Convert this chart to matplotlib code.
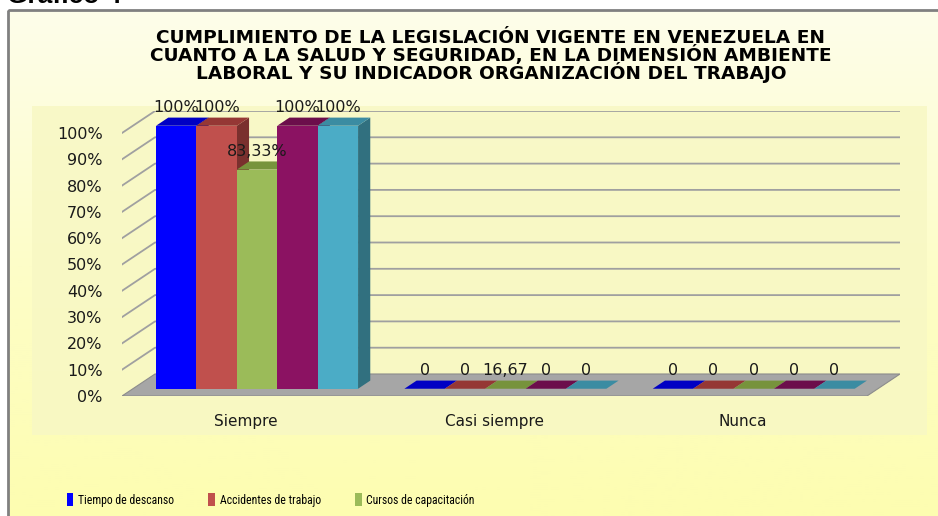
#!/usr/bin/env python3
# -*- coding: utf-8 -*-
"""Gráfico 4: barras 3D (proyección oblicua) de cumplimiento de la legislación."""

import matplotlib

matplotlib.use("Agg")
import matplotlib.pyplot as plt
import numpy as np
from matplotlib.patches import Patch, Polygon, Rectangle

# ---------------------------------------------------------------- data
categories = ["Siempre", "Casi siempre", "Nunca"]
legend_names = ["Tiempo de descanso", "Accidentes de trabajo", "Cursos de capacitación"]
siempre = [100, 100, 83.33, 100, 100]
casi_siempre = [0, 0, 0, 0, 0]
nunca = [0, 0, 0, 0, 0]
siempre_labels = ["100%", "100%", "83,33%", "100%", "100%"]
casi_siempre_labels = ["0", "0", "16,67", "0", "0"]
nunca_labels = ["0", "0", "0", "0", "0"]
y_ticks = [0, 10, 20, 30, 40, 50, 60, 70, 80, 90, 100]
y_tick_labels = ["0%", "10%", "20%", "30%", "40%", "50%", "60%", "70%", "80%", "90%", "100%"]

title = (
    "CUMPLIMIENTO DE LA LEGISLACIÓN VIGENTE EN VENEZUELA EN\n"
    "CUANTO A LA SALUD Y SEGURIDAD, EN LA DIMENSIÓN AMBIENTE\n"
    "LABORAL Y SU INDICADOR ORGANIZACIÓN DEL TRABAJO"
)

# front / top / side colours per series
front_colors = ["#0000FF", "#C0504D", "#9BBB59", "#8B1262", "#4BACC6"]
top_colors = ["#0000C4", "#953735", "#77933C", "#6C0E4B", "#3B8CA2"]
side_colors = ["#00009A", "#7A302E", "#5F7530", "#560B3C", "#31707F"]

# ---------------------------------------------------------------- layout (px)
W, H = 938, 516
X_FRONT0, X_FRONT1 = 122, 867  # front floor edge
Y_ZERO, Y_HUNDRED = 396, 133  # front 0% / 100%
DEPTH_PX = (33, 22)  # oblique depth offset (right, up)

fig = plt.figure(figsize=(W / 100, H / 100), dpi=100)
fig.patch.set_facecolor("white")

# background: frame with gradient, plot area, titles
bg = fig.add_axes([0, 0, 1, 1])
bg.set_xlim(0, W)
bg.set_ylim(H, 0)
bg.set_axis_off()
grad = np.linspace(0, 1, 256)[:, None]
cmap = matplotlib.colors.LinearSegmentedColormap.from_list("bg", ["#FEFEEA", "#FDFDC8", "#FDFDB0"])
bg.imshow(grad, extent=(8, W + 5, H + 5, 10), cmap=cmap, aspect="auto", zorder=0)
bg.add_patch(Rectangle((8, 10), W, H, facecolor="none", edgecolor="#808080", linewidth=2, zorder=3))
bg.add_patch(Rectangle((32, 106), 895, 329, facecolor="#F8F8C4", edgecolor="none", alpha=0.85, zorder=1))
bg.text(7, 3, "Gráfico 4", fontsize=19, fontweight="bold", family="Liberation Sans",
        ha="left", va="baseline", color="black")
bg.text(491, 56, title, fontsize=13.3, fontweight="bold", family="DejaVu Sans",
        ha="center", va="center", linespacing=0.82, color="black")

# main axes: x in category units, y in percent
xs = (X_FRONT1 - X_FRONT0) / len(categories)  # px per category
ys = (Y_ZERO - Y_HUNDRED) / 100.0  # px per percent
right_px = X_FRONT1 + DEPTH_PX[0]
top_px = Y_ZERO - 100 * ys - DEPTH_PX[1]
ax = fig.add_axes([X_FRONT0 / W, 1 - Y_ZERO / H, (right_px - X_FRONT0) / W, (Y_ZERO - top_px) / H])
ax.set_xlim(0, (right_px - X_FRONT0) / xs)
ax.set_ylim(0, (Y_ZERO - top_px) / ys)
ax.patch.set_alpha(0)
for spine in ax.spines.values():
    spine.set_visible(False)

DX = DEPTH_PX[0] / xs
DY = DEPTH_PX[1] / ys


def proj(x, y, d):
    return (x + d * DX, y + d * DY)


n_cat = len(categories)

# floor
floor = Polygon([proj(0, 0, 0), proj(n_cat, 0, 0), proj(n_cat, 0, 1), proj(0, 0, 1)],
                closed=True, facecolor="#A6A6A6", edgecolor="#8C8C8C", linewidth=0.8, zorder=2)
ax.add_patch(floor)

# gridlines: left wall + back wall
for t in y_ticks[1:]:
    p = [proj(0, t, 0), proj(0, t, 1), proj(n_cat, t, 1)]
    ax.plot([q[0] for q in p], [q[1] for q in p], color="#A0A0A0", linewidth=1.3, zorder=1)

# bars
values = [siempre, casi_siempre, nunca]
labels = [siempre_labels, casi_siempre_labels, nunca_labels]
n_ser = len(siempre)
bw = 40.4 / xs
d0, d1 = 0.33, 0.70
z = 3
for i in range(n_cat):
    x_start = i + 0.5 - n_ser * bw / 2
    for j in range(n_ser):
        h = values[i][j]
        x0, x1 = x_start + j * bw, x_start + (j + 1) * bw
        side = [proj(x1, 0, d0), proj(x1, h, d0), proj(x1, h, d1), proj(x1, 0, d1)]
        top = [proj(x0, h, d0), proj(x1, h, d0), proj(x1, h, d1), proj(x0, h, d1)]
        front = [proj(x0, 0, d0), proj(x1, 0, d0), proj(x1, h, d0), proj(x0, h, d0)]
        ax.add_patch(Polygon(side, closed=True, facecolor=side_colors[j], edgecolor="none", zorder=z))
        ax.add_patch(Polygon(top, closed=True, facecolor=top_colors[j], edgecolor="none", zorder=z))
        if h > 0:
            ax.add_patch(Polygon(front, closed=True, facecolor=front_colors[j], edgecolor="none", zorder=z))
        z += 1
        cx, cy = proj((x0 + x1) / 2, h, d0)
        ax.annotate(labels[i][j], (cx, cy), xytext=(0, 18), textcoords="offset pixels",
                    ha="center", va="center", fontsize=11.5, color="#1A1A1A", zorder=50,
                    annotation_clip=False)

# ticks
ax.set_yticks(y_ticks, y_tick_labels)
ax.tick_params(axis="y", length=0, pad=14, labelsize=11.5, labelcolor="#1A1A1A")
ax.set_xticks([i + 0.5 for i in range(n_cat)], categories)
ax.tick_params(axis="x", length=0, pad=13, labelsize=11, labelcolor="#1A1A1A")

# legend (only the first row is visible in the original)
handles = [Patch(facecolor=c, edgecolor="none") for c in front_colors[:3]]
fig.legend(handles, legend_names, loc="center left", bbox_to_anchor=(67 / W, 1 - 500 / H),
           ncol=3, frameon=False, borderpad=0, borderaxespad=0, handlelength=0.55, handleheight=1.2,
           handletextpad=0.4, columnspacing=2.9,
           prop={"family": ["Liberation Sans Narrow", "DejaVu Sans Condensed", "Roboto Condensed",
                            "Liberation Sans"], "size": 8.5})

fig.savefig("out.png", dpi=100)
plt.close(fig)
